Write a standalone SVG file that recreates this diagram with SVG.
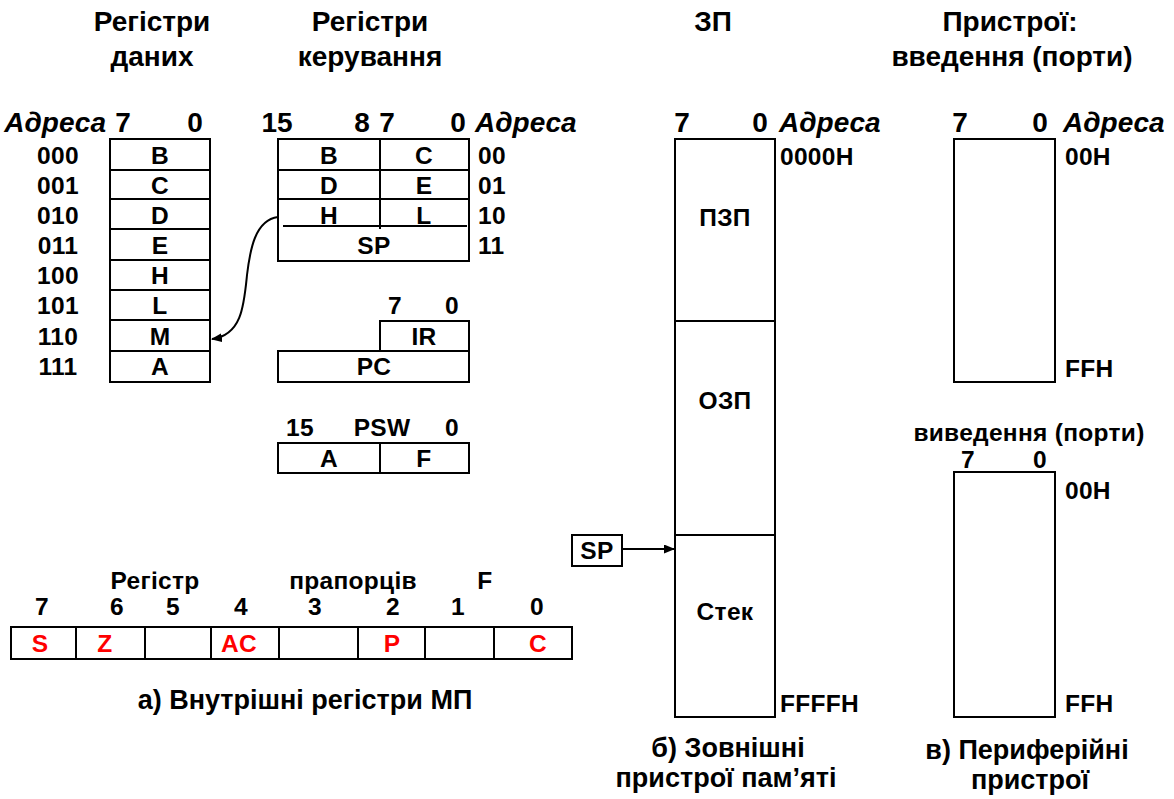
<svg xmlns="http://www.w3.org/2000/svg" width="1174" height="799" viewBox="0 0 1174 799">
<style>
text{font-family:"Liberation Sans",Arial,sans-serif;font-weight:bold;fill:#000}
.h{font-size:28px;text-anchor:middle}
.t{font-size:24.5px;letter-spacing:0.3px}
.cap{font-size:27px;text-anchor:middle}
.c{text-anchor:middle}
.it{font-style:italic}
.r{fill:#ff0000}
.b{fill:#fff;stroke:#000;stroke-width:2}
.l{stroke:#000;stroke-width:2;fill:none}
</style>
<defs>
<marker id="ah" markerWidth="11" markerHeight="9" refX="10" refY="4.5" orient="auto" markerUnits="userSpaceOnUse">
<path d="M0,0 L11,4.5 L0,9 z" fill="#000"/>
</marker>
</defs>
<rect width="1174" height="799" fill="#fff"/>

<g id="headers">
<text class="h" x="152" y="31">Регістри</text>
<text class="h" x="152" y="66">даних</text>
<text class="h" x="370" y="31">Регістри</text>
<text class="h" x="370" y="66">керування</text>
<text class="h" x="713" y="31">ЗП</text>
<text class="h" x="1010" y="31">Пристрої:</text>
<text class="h" x="1012" y="66">введення (порти)</text>
</g>

<g id="data-registers">
<text class="h it" x="106" y="132" style="text-anchor:end">Адреса</text>
<text class="h" x="123" y="132">7</text>
<text class="h" x="195" y="132">0</text>
<rect class="b" x="110" y="139" width="100" height="243"/>
<path class="l" d="M110,170H210M110,199H210M110,229H210M110,260H210M110,290H210M110,320H210M110,351H210"/>
<g class="t">
<text x="58" y="164" class="c">000</text><text x="160" y="164" class="c">B</text>
<text x="58" y="194" class="c">001</text><text x="160" y="194" class="c">C</text>
<text x="58" y="224" class="c">010</text><text x="160" y="224" class="c">D</text>
<text x="58" y="254" class="c">011</text><text x="160" y="254" class="c">E</text>
<text x="58" y="284" class="c">100</text><text x="160" y="284" class="c">H</text>
<text x="58" y="314" class="c">101</text><text x="160" y="314" class="c">L</text>
<text x="58" y="345" class="c">110</text><text x="160" y="345" class="c">M</text>
<text x="58" y="375" class="c">111</text><text x="160" y="375" class="c">A</text>
</g>
</g>

<g id="control-registers">
<text class="h" x="277" y="132">15</text>
<text class="h" x="362" y="132">8</text>
<text class="h" x="387" y="132">7</text>
<text class="h" x="458" y="132">0</text>
<text class="h it" x="475" y="132" style="text-anchor:start">Адреса</text>
<rect class="b" x="278" y="139" width="191" height="122"/>
<path class="l" d="M278,170H469M278,199H469M283,226H467M380,139V229"/>
<g class="t">
<text x="329" y="164" class="c">B</text><text x="424" y="164" class="c">C</text>
<text x="329" y="194" class="c">D</text><text x="424" y="194" class="c">E</text>
<text x="329" y="224" class="c">H</text><text x="424" y="224" class="c">L</text>
<text x="374" y="254" class="c">SP</text>
<text x="478" y="164">00</text>
<text x="478" y="194">01</text>
<text x="478" y="224">10</text>
<text x="478" y="254">11</text>
</g>
</g>

<g id="ir-pc">
<text class="t c" x="395" y="314">7</text>
<text class="t c" x="452" y="314">0</text>
<rect class="b" x="380" y="321" width="89" height="30"/>
<text class="t c" x="424" y="345">IR</text>
<rect class="b" x="278" y="351" width="191" height="31"/>
<text class="t c" x="374" y="375">PC</text>
</g>

<g id="psw">
<text class="t c" x="300" y="436">15</text>
<text class="t c" x="382" y="436">PSW</text>
<text class="t c" x="452" y="436">0</text>
<rect class="b" x="278" y="443" width="191" height="30"/>
<line class="l" x1="380" y1="443" x2="380" y2="473"/>
<text class="t c" x="329" y="467">A</text>
<text class="t c" x="424" y="467">F</text>
</g>

<g id="flag-register">
<text class="t c" x="155" y="589">Регістр</text>
<text class="t c" x="353" y="589">прапорців</text>
<text class="t c" x="485" y="589">F</text>
<g class="t c">
<text x="42" y="615">7</text><text x="117" y="615">6</text><text x="173" y="615">5</text><text x="241" y="615">4</text>
<text x="315" y="615">3</text><text x="393" y="615">2</text><text x="458" y="615">1</text><text x="537" y="615">0</text>
</g>
<rect class="b" x="11" y="627" width="561" height="32"/>
<path class="l" d="M76,627V659M145,627V659M211,627V659M279,627V659M358,627V659M425,627V659M494,627V659"/>
<g class="t c">
<text class="r" x="40" y="652">S</text>
<text class="r" x="105" y="652">Z</text>
<text class="r" x="239" y="652">AC</text>
<text class="r" x="392" y="652">P</text>
<text class="r" x="538" y="652">C</text>
</g>
<text class="cap" x="305" y="709">а) Внутрішні регістри МП</text>
</g>

<g id="memory">
<text class="h" x="682" y="132">7</text>
<text class="h" x="760" y="132">0</text>
<text class="h it" x="779" y="132" style="text-anchor:start">Адреса</text>
<rect class="b" x="675" y="139" width="100" height="578"/>
<path class="l" d="M675,321H775M675,535H775"/>
<text class="t c" x="725" y="226">ПЗП</text>
<text class="t c" x="725" y="409">ОЗП</text>
<text class="t c" x="725" y="620">Стек</text>
<text class="t" x="780" y="165">0000H</text>
<text class="t" x="780" y="712">FFFFH</text>
<text class="cap" x="728" y="757">б) Зовнішні</text>
<text class="cap" x="726" y="787">пристрої пам’яті</text>
</g>

<g id="sp-pointer">
<rect class="b" x="572" y="535" width="50" height="31"/>
<text class="t c" x="597" y="559">SP</text>
</g>

<g id="input-ports">
<text class="h" x="960" y="132">7</text>
<text class="h" x="1040" y="132">0</text>
<text class="h it" x="1063" y="132" style="text-anchor:start">Адреса</text>
<rect class="b" x="954" y="139" width="101" height="243"/>
<text class="t" x="1065" y="165">00H</text>
<text class="t" x="1065" y="377">FFH</text>
</g>

<g id="output-ports">
<text class="t c" x="1029" y="441">виведення  (порти)</text>
<text class="t c" x="968" y="468">7</text>
<text class="t c" x="1040" y="468">0</text>
<rect class="b" x="954" y="472" width="101" height="245"/>
<text class="t" x="1065" y="499">00H</text>
<text class="t" x="1065" y="712">FFH</text>
<text class="cap" x="1027" y="759">в) Периферійні</text>
<text class="cap" x="1030" y="789">пристрої</text>
</g>

<g id="connectors">
<path class="l" d="M278,217 C255,220 250,250 247,275 C244,305 242,335 212,339" marker-end="url(#ah)"/>
<line class="l" x1="622" y1="549" x2="674" y2="549" marker-end="url(#ah)"/>
</g>
</svg>
